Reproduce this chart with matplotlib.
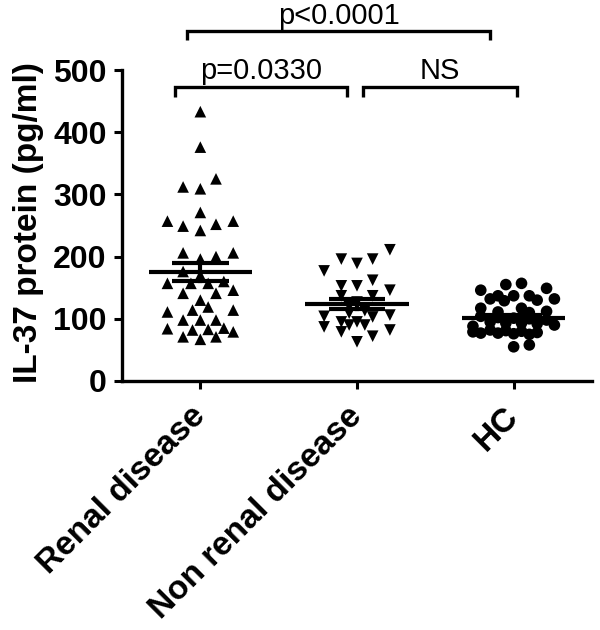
import matplotlib
matplotlib.use("Agg")
import matplotlib.pyplot as plt
import matplotlib.transforms as mtransforms

plt.rcParams['font.family'] = ['Liberation Sans', 'DejaVu Sans']

categories = ["Renal disease", "Non renal disease", "HC"]
y_ticks = [0, 100, 200, 300, 400, 500]

renal_values = [433, 376, 325, 312, 309, 271, 257, 257, 252, 249, 242,
                206, 200, 206, 196, 176, 170, 157, 157, 157, 160, 146,
                141, 141, 130, 119, 114, 111, 114, 98, 98, 98,
                84, 82, 83, 85, 79, 71, 67, 71]
renal_jitter = [0, 0, 0.10, -0.11, 0, 0, -0.21, 0.21, 0.10, -0.11, 0,
                -0.11, 0.10, 0.21, 0, -0.11, 0, -0.21, -0.06, 0.05, 0.15, 0.21,
                -0.11, 0.10, 0, 0.05, -0.05, -0.21, 0.21, -0.11, 0, 0.10,
                -0.21, -0.05, 0.05, 0.15, 0.21, -0.11, 0, 0.10]

nonrenal_values = [211, 196, 189, 196, 177, 162, 153, 153, 146, 137, 137,
                   127, 120, 113, 109, 106, 104, 103, 95, 95, 90, 90,
                   87, 82, 79, 72, 63]
nonrenal_jitter = [0.21, -0.10, 0, 0.10, -0.21, 0.10, -0.10, 0, 0.21, -0.10, 0.10,
                   0, -0.05, 0.05, -0.05, 0.21, -0.21, 0.10, -0.10, 0, -0.05, 0.05,
                   -0.21, 0.21, -0.10, 0.10, 0]

hc_values = [157, 155, 149, 146, 137, 137, 137, 132, 132, 130, 129,
             117, 117, 112, 111, 110, 104, 102, 101, 100, 98,
             95, 93, 93, 92, 90, 88, 82, 81, 80, 79, 78, 77, 77, 76, 75,
             58, 55]
hc_jitter = [0.05, -0.05, 0.21, -0.21, -0.10, 0, 0.10, -0.15, 0.26, 0.15, -0.06,
             -0.21, 0.05, 0.21, -0.10, 0.10, -0.21, -0.10, 0, 0.10, 0.21,
             -0.15, -0.05, 0.05, 0.15, 0.26, -0.26, -0.15, -0.05, 0.05, -0.26, 0.15,
             -0.21, -0.10, 0, 0.10, 0.10, 0]

group_means = [175, 124, 102]
group_sems = [15, 8, 4]

groups = [(renal_values, renal_jitter, '^'),
          (nonrenal_values, nonrenal_jitter, 'v'),
          (hc_values, hc_jitter, 'o')]

fig = plt.figure(figsize=(6.0, 6.3), dpi=100)
ax = fig.add_axes([122/600, 1-381/630, (592-122)/600, (381-70)/630])

for i, (vals, jit, mk) in enumerate(groups):
    xs = [i + j for j in jit]
    ax.scatter(xs, vals, marker=mk, s=70, color='black', edgecolors='none',
               zorder=3, clip_on=False)

for i, (m, s) in enumerate(zip(group_means, group_sems)):
    ax.plot([i - 0.33, i + 0.33], [m, m], color='black', lw=3, zorder=4,
            solid_capstyle='butt')
    ax.plot([i, i], [m - s, m + s], color='black', lw=3, zorder=4)
    for yy in (m - s, m + s):
        ax.plot([i - 0.18, i + 0.18], [yy, yy], color='black', lw=3, zorder=4,
                solid_capstyle='butt')

ax.set_xlim(-0.5, 2.5)
ax.set_ylim(0, 500)
ax.set_yticks(y_ticks)
ax.set_yticklabels([str(t) for t in y_ticks], fontsize=23, fontweight='bold')
ax.set_xticks(range(len(categories)))
ax.set_xticklabels(categories, fontsize=24, fontweight='bold', rotation=45,
                   ha='right', va='center', rotation_mode='anchor')
shift = mtransforms.ScaledTranslation(10/100, 0, fig.dpi_scale_trans)
for lbl in ax.get_xticklabels():
    lbl.set_transform(lbl.get_transform() + shift)
for sp in ('top', 'right'):
    ax.spines[sp].set_visible(False)
for sp in ('left', 'bottom'):
    ax.spines[sp].set_linewidth(2.4)
ax.tick_params(axis='both', length=6, width=2.2)
ax.tick_params(axis='y', pad=5)
ax.tick_params(axis='x', pad=16)

fig.text(29/600, 1-223/630, "IL-37 protein (pg/ml)", rotation=90,
         ha='center', va='center', fontsize=24, fontweight='bold')

def bracket(x0, x1, y, tip, label, ty):
    ax.plot([x0, x0, x1, x1], [tip, y, y, tip], color='black', lw=2.4,
            clip_on=False, solid_capstyle='butt', solid_joinstyle='miter')
    ax.text((x0 + x1) / 2, ty, label, ha='center', va='baseline',
            fontsize=21, clip_on=False)

bracket(-0.085, 1.85, 563, 548, "p<0.0001", 574)
bracket(-0.16, 0.936, 473, 457, "p=0.0330", 486)
bracket(1.04, 2.02, 473, 457, "NS", 485)

fig.savefig("out.png", dpi=100)
